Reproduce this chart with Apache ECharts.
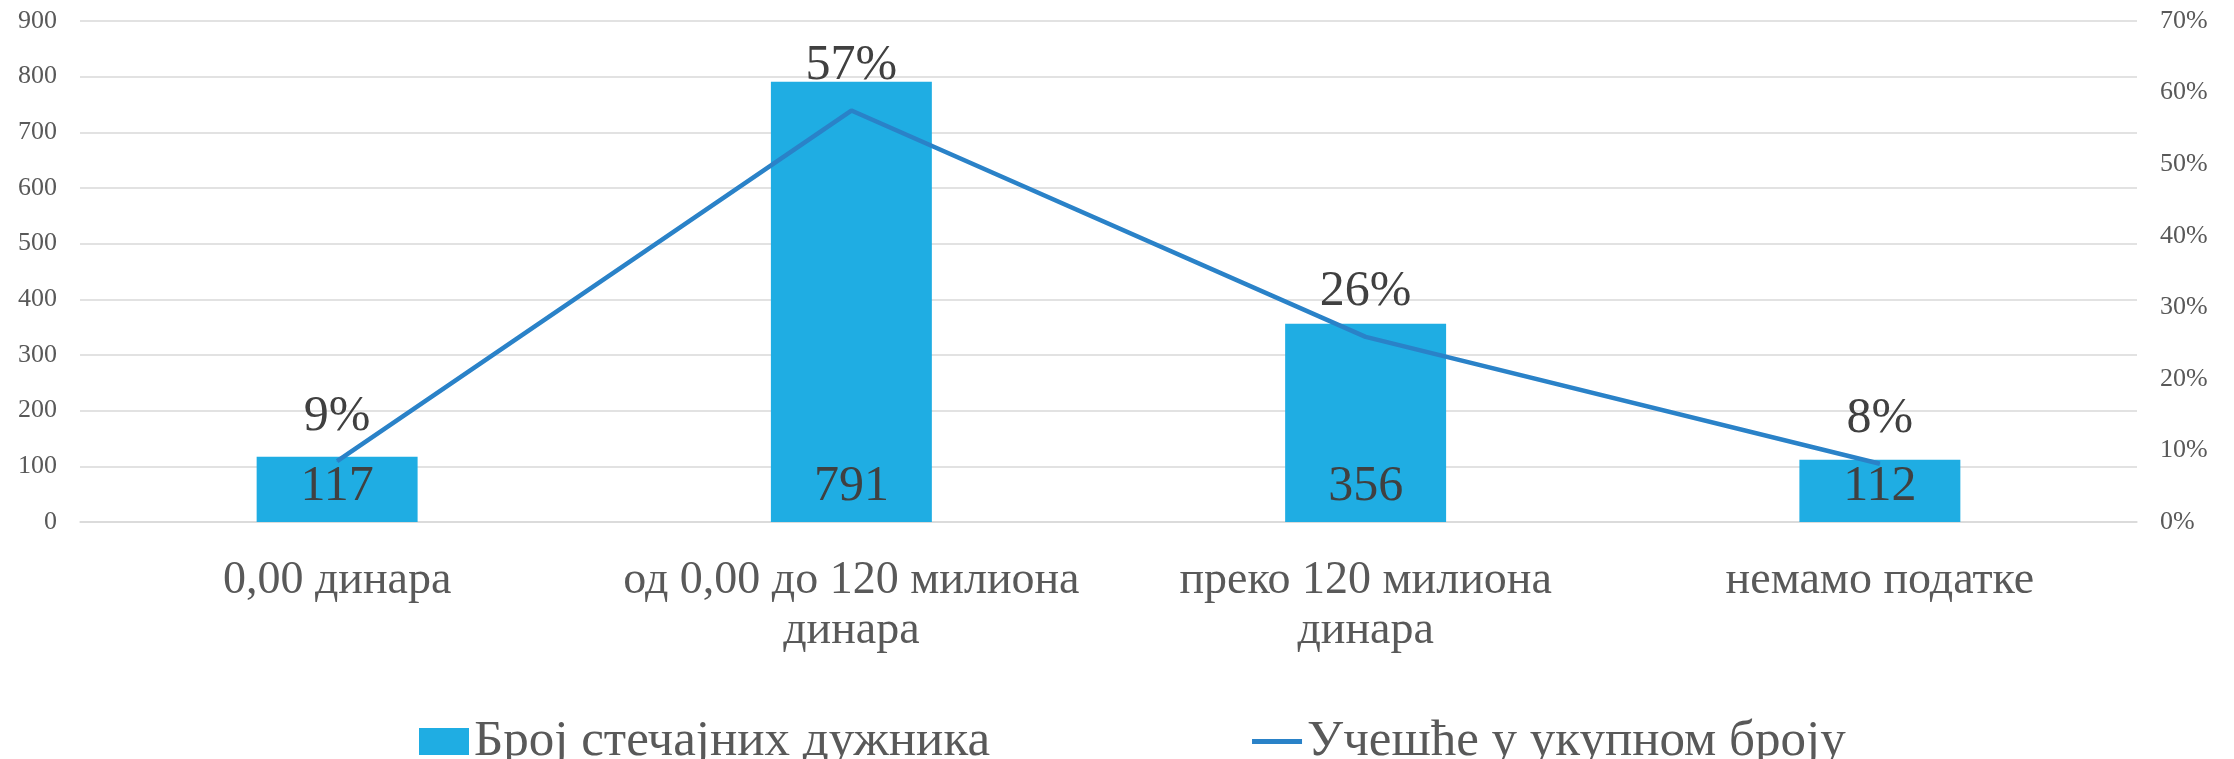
<!DOCTYPE html>
<html><head><meta charset="utf-8">
<script src="https://cdn.jsdelivr.net/npm/echarts@6/dist/echarts.min.js"></script>
<style>html,body{margin:0;padding:0;background:#fff}#c{width:2234px;height:759px}</style>
</head><body><div id="c"></div>
<script>
const categories = ['0,00 динара', 'од 0,00 до 120 милиона\nдинара', 'преко 120 милиона\nдинара', 'немамо податке'];
const debtors = [117, 791, 356, 112];
const shares = [0.0850, 0.5749, 0.2587, 0.0814];
const seriesNames = ['Број стечајних дужника', 'Учешће у укупном броју'];
const leftTicks = {min: 0, max: 900, interval: 100};
const rightTicks = {min: 0, max: 0.7, interval: 0.1};

const FONT = '"Liberation Serif", "DejaVu Serif", serif';
const chart = echarts.init(document.getElementById('c'));
chart.setOption({
  animation: false,
  textStyle: {fontFamily: FONT},
  grid: {left: 80, right: 97, top: 21, bottom: 237, containLabel: false},
  legend: {
    left: 414, top: 711, itemGap: 262, itemWidth: 50, itemHeight: 27,
    textStyle: {fontFamily: FONT, fontSize: 51, color: '#595959', lineHeight: 48},
    data: [
      {name: seriesNames[0], icon: 'rect'},
      {name: seriesNames[1], icon: 'path://M0,0H50V5H0Z'}
    ]
  },
  xAxis: {
    type: 'category', data: categories,
    axisLine: {lineStyle: {color: '#d9d9d9', width: 1.5}},
    axisTick: {show: false},
    axisLabel: {fontFamily: FONT, fontSize: 46, lineHeight: 50, color: '#595959', margin: 34, interval: 0}
  },
  yAxis: [
    {type: 'value', min: leftTicks.min, max: leftTicks.max, interval: leftTicks.interval,
     axisLine: {show: false}, axisTick: {show: false},
     splitLine: {lineStyle: {color: '#d9d9d9', width: 1.5}},
     axisLabel: {fontFamily: FONT, fontSize: 26, color: '#595959', margin: 23}},
    {type: 'value', min: rightTicks.min, max: rightTicks.max, interval: rightTicks.interval,
     axisLine: {show: false}, axisTick: {show: false}, splitLine: {show: false},
     axisLabel: {fontFamily: FONT, fontSize: 26, color: '#595959', margin: 23,
       formatter: v => Math.round(v * 100) + '%'}}
  ],
  series: [
    {name: seriesNames[0], type: 'bar', data: debtors, yAxisIndex: 0, barWidth: '31.3%',
     itemStyle: {color: '#1FADE3'},
     label: {show: true, position: 'insideBottom', distance: 11, fontFamily: FONT, fontSize: 50, lineHeight: 48, color: '#404040'}},
    {name: seriesNames[1], type: 'line', data: shares, yAxisIndex: 1,
     symbol: 'circle', symbolSize: 1, showSymbol: true,
     lineStyle: {color: '#2A82C8', width: 4.5}, itemStyle: {color: '#2A82C8'},
     label: {show: true, position: 'top', distance: 20, fontFamily: FONT, fontSize: 50, lineHeight: 48, color: '#404040',
       formatter: p => Math.round(p.value * 100) + '%'}}
  ]
});
</script></body></html>
